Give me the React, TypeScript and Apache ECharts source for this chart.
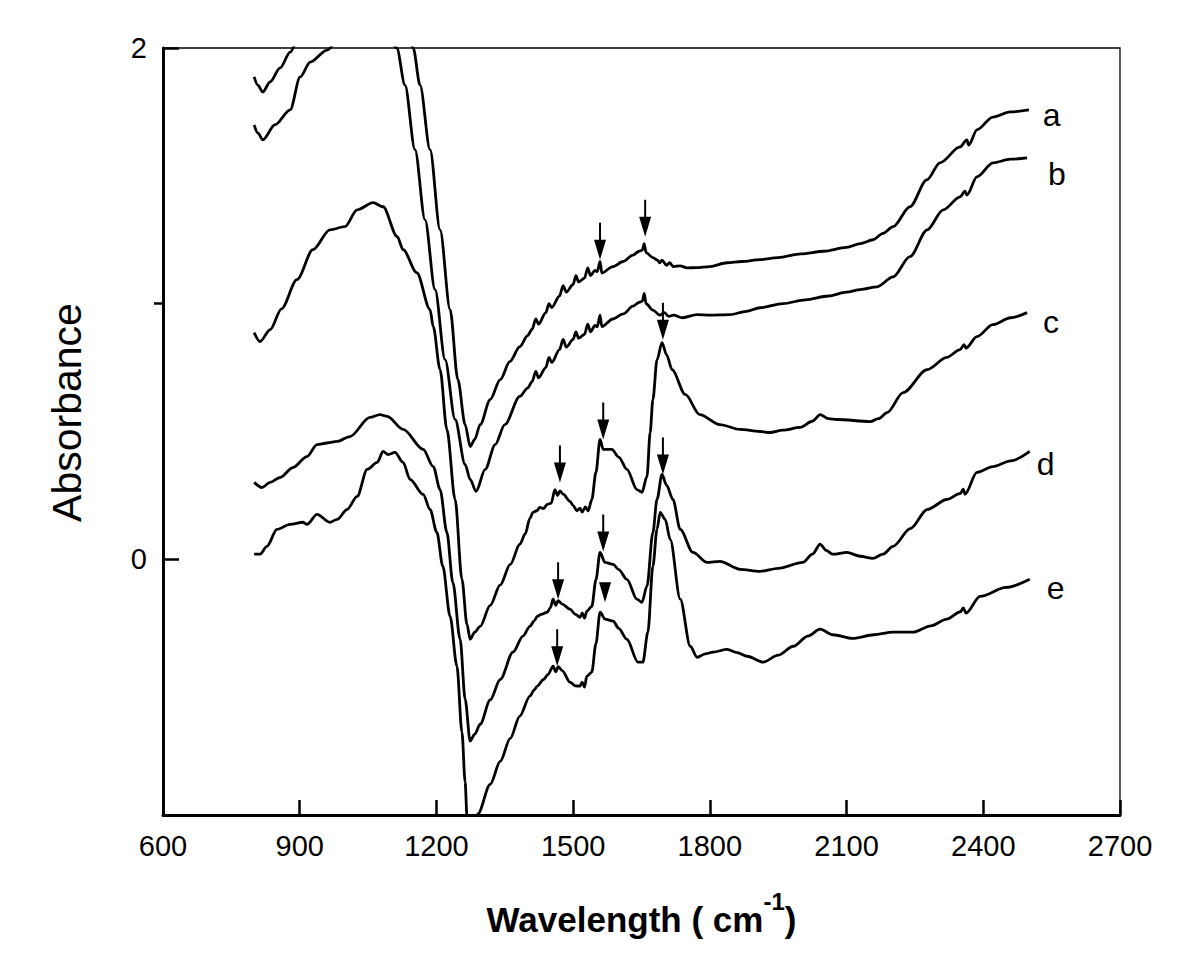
import React, { useEffect, useRef } from "react";
import * as echarts from "echarts";

type Pt = [number, number];

const xTickValues = [600, 900, 1200, 1500, 1800, 2100, 2400, 2700];
const yLabelValues = [0, 2];
const yOuterTickValues = [1];
const curveNames = ["a", "b", "c", "d", "e"];

const curveA: Pt[] = [
  [800, 1.887], [808, 1.855], [819, 1.828], [835, 1.867], [857, 1.922], [879, 1.984], [900, 2.05],
  [950, 2.18], [1000, 2.27], [1060, 2.32], [1110, 2.26], [1130, 2.15], [1149, 2.0], [1164, 1.855],
  [1186, 1.602], [1208, 1.289], [1230, 0.977], [1247, 0.703], [1263, 0.527], [1274, 0.441],
  [1284, 0.469], [1296, 0.527], [1318, 0.625], [1340, 0.703], [1361, 0.773], [1383, 0.832],
  [1400, 0.875], [1410, 0.9], [1418, 0.94], [1424, 0.92], [1440, 0.965], [1447, 1.0], [1453, 0.985],
  [1470, 1.03], [1478, 1.07], [1485, 1.045], [1500, 1.075], [1506, 1.11], [1512, 1.085], [1525, 1.1],
  [1532, 1.14], [1538, 1.11], [1548, 1.13], [1553, 1.125], [1559, 1.165], [1563, 1.12], [1587, 1.145],
  [1610, 1.165], [1631, 1.19], [1645, 1.205], [1652, 1.21], [1656, 1.235], [1660, 1.2], [1675, 1.18],
  [1685, 1.17], [1690, 1.16], [1695, 1.17], [1705, 1.15], [1712, 1.16], [1720, 1.145], [1735, 1.148],
  [1750, 1.14], [1770, 1.141], [1800, 1.145], [1838, 1.16], [1870, 1.165], [1910, 1.172], [1950, 1.18],
  [2000, 1.195], [2050, 1.205], [2100, 1.22], [2130, 1.235], [2158, 1.25], [2180, 1.275], [2202, 1.301],
  [2239, 1.379], [2276, 1.484], [2305, 1.551], [2349, 1.613], [2364, 1.641], [2368, 1.62], [2386, 1.68],
  [2421, 1.73], [2459, 1.75], [2500, 1.758],
];

const curveB: Pt[] = [
  [800, 1.699], [808, 1.668], [819, 1.641], [846, 1.7], [879, 1.758], [901, 1.887], [923, 1.945],
  [960, 1.992], [1000, 2.08], [1050, 2.12], [1090, 2.06], [1113, 2.0], [1131, 1.855], [1153, 1.602],
  [1175, 1.328], [1197, 1.055], [1219, 0.781], [1241, 0.547], [1263, 0.371], [1274, 0.3125],
  [1287, 0.266], [1307, 0.352], [1329, 0.449], [1350, 0.527], [1383, 0.637], [1400, 0.67], [1410, 0.695],
  [1418, 0.735], [1424, 0.71], [1440, 0.75], [1447, 0.79], [1453, 0.77], [1470, 0.82], [1478, 0.86],
  [1485, 0.83], [1500, 0.86], [1506, 0.89], [1512, 0.865], [1525, 0.88], [1532, 0.92], [1538, 0.89],
  [1548, 0.915], [1553, 0.91], [1559, 0.955], [1563, 0.91], [1587, 0.94], [1610, 0.96], [1631, 0.99],
  [1645, 1.005], [1652, 1.01], [1656, 1.04], [1660, 1.0], [1675, 0.975], [1690, 0.955], [1700, 0.965],
  [1710, 0.95], [1720, 0.955], [1740, 0.945], [1772, 0.957], [1800, 0.955], [1844, 0.957], [1880, 0.97],
  [1910, 0.984], [1960, 1.0], [2010, 1.015], [2060, 1.03], [2100, 1.045], [2130, 1.055], [2167, 1.066],
  [2202, 1.105], [2239, 1.184], [2277, 1.289], [2312, 1.367], [2349, 1.418], [2360, 1.44], [2364, 1.425],
  [2386, 1.496], [2421, 1.551], [2460, 1.565], [2496, 1.57],
];

const curveC: Pt[] = [
  [800, 0.887], [813, 0.852], [835, 0.898], [860, 0.98], [894, 1.094], [929, 1.211], [966, 1.289],
  [999, 1.301], [1026, 1.367], [1061, 1.395], [1083, 1.379], [1114, 1.262], [1127, 1.211], [1157, 1.121],
  [1186, 0.977], [1193, 0.91], [1208, 0.742], [1223, 0.508], [1241, 0.234], [1256, -0.078],
  [1267, -0.254], [1274, -0.3125], [1284, -0.285], [1296, -0.262], [1318, -0.18], [1340, -0.1],
  [1362, -0.02], [1383, 0.059], [1395, 0.1], [1405, 0.16], [1412, 0.184], [1420, 0.19], [1427, 0.203],
  [1435, 0.198], [1443, 0.215], [1452, 0.22], [1460, 0.273], [1466, 0.25], [1471, 0.268], [1478, 0.255],
  [1493, 0.227], [1500, 0.21], [1508, 0.19], [1515, 0.2], [1520, 0.185], [1527, 0.205], [1533, 0.19],
  [1541, 0.234], [1550, 0.34], [1559, 0.469], [1566, 0.43], [1585, 0.43], [1600, 0.4], [1618, 0.352],
  [1640, 0.273], [1651, 0.262], [1662, 0.324], [1669, 0.496], [1675, 0.625], [1684, 0.78], [1695, 0.848],
  [1705, 0.8], [1717, 0.742], [1746, 0.645], [1778, 0.566], [1822, 0.527], [1866, 0.508], [1910, 0.5],
  [1932, 0.496], [1960, 0.505], [1998, 0.516], [2025, 0.54], [2042, 0.566], [2060, 0.55], [2079, 0.547],
  [2152, 0.539], [2170, 0.55], [2189, 0.574], [2224, 0.652], [2277, 0.742], [2320, 0.79], [2349, 0.82],
  [2358, 0.84], [2362, 0.826], [2386, 0.871], [2421, 0.918], [2460, 0.945], [2496, 0.965],
];

const curveD: Pt[] = [
  [800, 0.301], [817, 0.281], [835, 0.301], [857, 0.32], [885, 0.359], [916, 0.402], [938, 0.449],
  [960, 0.455], [982, 0.461], [1010, 0.48], [1054, 0.555], [1076, 0.566], [1092, 0.559], [1127, 0.508],
  [1171, 0.43], [1193, 0.363], [1208, 0.273], [1223, 0.105], [1236, -0.09], [1252, -0.3125],
  [1263, -0.547], [1274, -0.711], [1284, -0.684], [1296, -0.645], [1318, -0.55], [1340, -0.47],
  [1368, -0.363], [1390, -0.3], [1405, -0.262], [1415, -0.24], [1421, -0.223], [1430, -0.215],
  [1443, -0.207], [1450, -0.19], [1456, -0.156], [1462, -0.18], [1467, -0.162], [1476, -0.175],
  [1493, -0.195], [1505, -0.215], [1515, -0.227], [1520, -0.21], [1525, -0.23], [1530, -0.203],
  [1541, -0.184], [1550, -0.08], [1559, 0.027], [1570, -0.012], [1588, -0.02], [1600, -0.04],
  [1618, -0.078], [1640, -0.156], [1651, -0.168], [1662, -0.105], [1675, 0.105], [1684, 0.234],
  [1695, 0.332], [1705, 0.29], [1719, 0.234], [1735, 0.117], [1763, 0.027], [1794, -0.012],
  [1822, -0.008], [1866, -0.039], [1910, -0.047], [1950, -0.035], [2004, -0.012], [2025, 0.02],
  [2042, 0.059], [2055, 0.035], [2070, 0.02], [2101, 0.027], [2130, 0.012], [2158, 0.004], [2180, 0.02],
  [2202, 0.051], [2240, 0.12], [2277, 0.195], [2320, 0.234], [2350, 0.258], [2356, 0.275], [2360, 0.255],
  [2386, 0.34], [2421, 0.363], [2460, 0.385], [2502, 0.422],
];

const curveE: Pt[] = [
  [800, 0.02], [813, 0.02], [828, 0.051], [850, 0.117], [879, 0.137], [907, 0.145], [916, 0.137],
  [938, 0.176], [966, 0.145], [982, 0.156], [1004, 0.195], [1026, 0.246], [1048, 0.352], [1070, 0.379],
  [1083, 0.422], [1094, 0.41], [1109, 0.418], [1127, 0.379], [1142, 0.3125], [1171, 0.254],
  [1186, 0.195], [1201, 0.105], [1214, -0.027], [1230, -0.223], [1245, -0.418], [1256, -0.676],
  [1263, -0.871], [1267, -1.004], [1276, -1.12], [1291, -0.996], [1318, -0.88], [1340, -0.79],
  [1362, -0.7], [1383, -0.613], [1405, -0.535], [1415, -0.51], [1421, -0.496], [1435, -0.47],
  [1445, -0.45], [1456, -0.418], [1462, -0.44], [1467, -0.42], [1476, -0.435], [1493, -0.48],
  [1505, -0.495], [1515, -0.496], [1520, -0.48], [1525, -0.5], [1530, -0.457], [1541, -0.441],
  [1550, -0.33], [1559, -0.207], [1570, -0.234], [1588, -0.242], [1600, -0.27], [1618, -0.3125],
  [1642, -0.402], [1653, -0.402], [1664, -0.285], [1675, -0.027], [1684, 0.117], [1691, 0.184],
  [1702, 0.156], [1713, 0.078], [1735, -0.156], [1757, -0.34], [1772, -0.383], [1790, -0.37],
  [1807, -0.363], [1838, -0.352], [1860, -0.365], [1882, -0.379], [1917, -0.402], [1950, -0.375],
  [1983, -0.34], [2015, -0.3], [2042, -0.273], [2070, -0.295], [2114, -0.309], [2160, -0.295],
  [2202, -0.285], [2246, -0.285], [2285, -0.26], [2320, -0.234], [2350, -0.205], [2356, -0.19],
  [2362, -0.21], [2393, -0.145], [2450, -0.11], [2502, -0.078],
];

// arrow tips (wavenumber, absorbance)
const arrowsA: Pt[] = [[1559, 1.172], [1658, 1.262]];
const arrowsB: Pt[] = [];
const arrowsC: Pt[] = [[1471, 0.301], [1566, 0.469], [1697, 0.859]];
const arrowsD: Pt[] = [[1467, -0.156], [1566, 0.031], [1697, 0.332]];
const arrowsE: Pt[] = [[1465, -0.418]];
const headsE: Pt[] = [[1570, -0.168]];

const FONT = "'Liberation Sans', Arial, Helvetica, sans-serif";
const ARROW = "path://M5,0L7,0L7,17L12,17L6,37L0,17L5,17Z";
const HEAD = "path://M0,0L12,0L6,20Z";

const labelOffsets: Pt[] = [[9, 5], [16, 16], [11, 9], [2, 13], [12, 9]];

export default function App() {
  const ref = useRef<HTMLDivElement>(null);
  useEffect(() => {
    document.body.style.margin = "0";
    const chart = echarts.init(ref.current!, undefined, { renderer: "svg" });
    const curves = [curveA, curveB, curveC, curveD, curveE];
    const arrows = [arrowsA, arrowsB, arrowsC, arrowsD, arrowsE];
    const heads: Pt[][] = [[], [], [], [], headsE];
    const series = curves.map((data, i) => ({
      type: "line",
      name: curveNames[i],
      data,
      showSymbol: false,
      symbol: "none",
      smooth: 0.3,
      smoothMonotone: "x",
      clip: true,
      silent: true,
      lineStyle: { color: "#000", width: 2.8 },
      itemStyle: { color: "#000" },
      endLabel: {
        show: true,
        formatter: curveNames[i],
        color: "#000",
        fontSize: 32,
        fontFamily: FONT,
        distance: 5,
        offset: labelOffsets[i],
      },
      markPoint: {
        silent: true,
        label: { show: false },
        itemStyle: { color: "#000" },
        data: [
          ...arrows[i].map((c) => ({
            coord: c,
            symbol: ARROW,
            symbolSize: [12, 37],
            symbolOffset: [0, "-50%"],
          })),
          ...heads[i].map((c) => ({
            coord: c,
            symbol: HEAD,
            symbolSize: [12, 20],
            symbolOffset: [0, "-50%"],
          })),
        ],
      },
    }));
    chart.setOption({
      animation: false,
      backgroundColor: "#fff",
      grid: {
        left: 163,
        right: 80,
        top: 48,
        bottom: 164,
        show: true,
        borderColor: "#000",
        borderWidth: 1.3,
        backgroundColor: "transparent",
      },
      xAxis: {
        type: "value",
        min: 600,
        max: 2700,
        interval: 300,
        axisLine: { show: true, onZero: false, lineStyle: { color: "#000", width: 3 } },
        axisTick: { show: true, inside: true, length: 15, lineStyle: { color: "#000", width: 2.5 }, customValues: xTickValues },
        axisLabel: {
          color: "#000",
          fontSize: 29,
          fontFamily: FONT,
          margin: 16,
          customValues: xTickValues,
          formatter: (v: number) => String(v),
        },
        splitLine: { show: false },
        name: "{t|Wavelength ( cm}{s|-1}{t|)}",
        nameLocation: "middle",
        nameGap: 74,
        nameTextStyle: {
          rich: {
            t: { fontSize: 35, fontWeight: "bold", fontFamily: FONT, color: "#000", verticalAlign: "bottom", lineHeight: 48 },
            s: { fontSize: 24, fontWeight: "bold", fontFamily: FONT, color: "#000", verticalAlign: "top", lineHeight: 48, padding: [0, 0, 22, 0] },
          },
        },
      },
      yAxis: [
        {
          type: "value",
          min: -1,
          max: 2,
          interval: 1,
          axisLine: { show: true, onZero: false, lineStyle: { color: "#000", width: 3 } },
          axisTick: { show: true, inside: true, length: 16, lineStyle: { color: "#000", width: 2.5 }, customValues: yLabelValues },
          axisLabel: {
            color: "#000",
            fontSize: 29,
            fontFamily: FONT,
            margin: 16,
            customValues: yLabelValues,
            formatter: (v: number) => String(v),
          },
          splitLine: { show: false },
          name: "Absorbance",
          nameLocation: "middle",
          nameGap: 76,
          nameTextStyle: { fontSize: 41, fontFamily: FONT, color: "#000", padding: [0, 0, 0, 38] },
        },
        {
          type: "value",
          min: -1,
          max: 2,
          interval: 1,
          position: "left",
          axisLine: { show: false },
          axisTick: { show: true, inside: false, length: 9, lineStyle: { color: "#000", width: 2.5 }, customValues: yOuterTickValues },
          axisLabel: { show: false },
          splitLine: { show: false },
        },
      ],
      series,
    });
    return () => chart.dispose();
  }, []);
  return <div ref={ref} style={{ width: 1200, height: 979 }} />;
}
